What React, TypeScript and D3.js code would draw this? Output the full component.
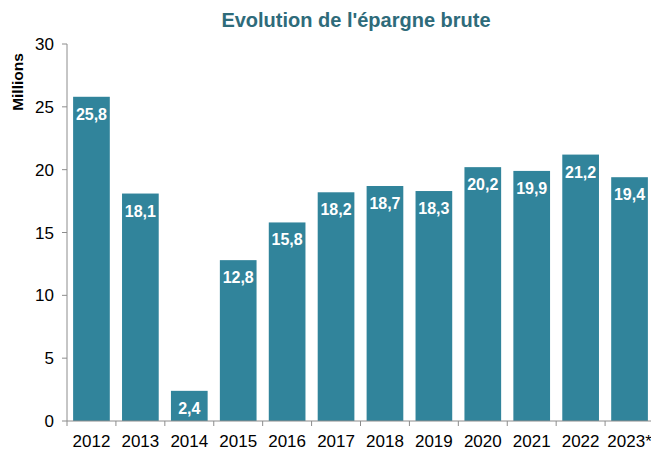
import { scaleBand, scaleLinear } from "d3";

const years = ["2012", "2013", "2014", "2015", "2016", "2017", "2018", "2019", "2020", "2021", "2022", "2023*"];
const savings = [25.8, 18.1, 2.4, 12.8, 15.8, 18.2, 18.7, 18.3, 20.2, 19.9, 21.2, 19.4];
const yTicks = [0, 5, 10, 15, 20, 25, 30];

const W = 651;
const H = 452;
const margin = { top: 44, right: -3, bottom: 31, left: 67 };

const font = "Arial, 'Liberation Sans', sans-serif";
const barColor = "#31849b";
const axisColor = "#8c8c8c";

export default function App() {
  const x = scaleBand<string>()
    .domain(years)
    .range([margin.left, W - margin.right])
    .paddingInner(0.25)
    .paddingOuter(0.125);

  const y = scaleLinear()
    .domain([0, 30])
    .range([H - margin.bottom, margin.top]);

  const step = x.step();
  const y0 = y(0);

  return (
    <svg
      width={W}
      height={H}
      style={{ position: "absolute", left: 0, top: 0, background: "#fff" }}
      fontFamily={font}
    >
      {/* Title */}
      <text x={356} y={27} textAnchor="middle" fontSize={20} fontWeight="bold" fill="#2e6b7a">
        Evolution de l'épargne brute
      </text>

      {/* Y label */}
      <text
        transform={`translate(23, 82) rotate(-90)`}
        textAnchor="middle"
        fontSize={15.5}
        fontWeight="bold"
        fill="#000"
      >
        Millions
      </text>

      {/* Bars */}
      {years.map((yr, i) => (
        <g key={yr}>
          <rect
            x={x(yr)}
            y={y(savings[i])}
            width={x.bandwidth()}
            height={y0 - y(savings[i])}
            fill={barColor}
          />
          <text
            x={(x(yr) ?? 0) + x.bandwidth() / 2}
            y={y(savings[i]) + 23}
            textAnchor="middle"
            fontSize={16}
            fontWeight="bold"
            fill="#fff"
          >
            {savings[i].toString().replace(".", ",")}
          </text>
        </g>
      ))}

      {/* Y axis */}
      <line x1={margin.left} x2={margin.left} y1={y(30)} y2={y0} stroke={axisColor} strokeWidth={1} />
      {yTicks.map((t) => (
        <g key={t}>
          <line x1={margin.left - 5} x2={margin.left} y1={y(t)} y2={y(t)} stroke={axisColor} />
          <text x={54} y={y(t) + 6} textAnchor="end" fontSize={17} fill="#000">
            {t}
          </text>
        </g>
      ))}

      {/* X axis */}
      <line x1={margin.left} x2={W} y1={y0} y2={y0} stroke={axisColor} strokeWidth={1} />
      {years.map((yr, i) => (
        <g key={yr}>
          <line
            x1={margin.left + i * step}
            x2={margin.left + i * step}
            y1={y0}
            y2={y0 + 5}
            stroke={axisColor}
          />
          <text
            x={(x(yr) ?? 0) + x.bandwidth() / 2}
            y={447}
            textAnchor="middle"
            fontSize={17}
            fill="#000"
          >
            {yr}
          </text>
        </g>
      ))}
    </svg>
  );
}
